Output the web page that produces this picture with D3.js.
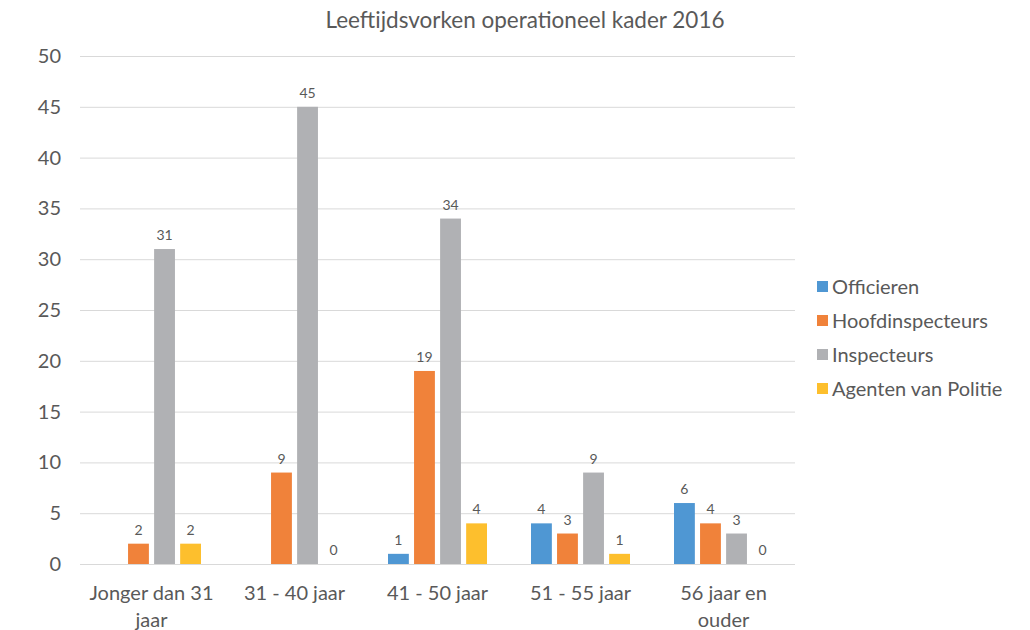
<!DOCTYPE html>
<html>
<head>
<meta charset="utf-8">
<script src="https://cdn.jsdelivr.net/npm/d3@7"></script>
<style>
  body { margin: 0; background: #fff; }
  text { font-family: Lato, "Open Sans", sans-serif; fill: #595959; }
</style>
</head>
<body>
<div id="chart"></div>
<script>
// data
const categories = ["Jonger dan 31|jaar", "31 - 40 jaar", "41 - 50 jaar", "51 - 55 jaar", "56 jaar en|ouder"];
const seriesNames = ["Officieren", "Hoofdinspecteurs", "Inspecteurs", "Agenten van Politie"];
const officieren = [null, null, 1, 4, 6];
const hoofdinspecteurs = [2, 9, 19, 3, 4];
const inspecteurs = [31, 45, 34, 9, 3];
const agenten = [2, 0, 4, 1, 0];
const yTicks = [0, 5, 10, 15, 20, 25, 30, 35, 40, 45, 50];
const colors = ["#4f97d3", "#f0823a", "#b0b1b4", "#fdbf2d"];

const allSeries = [officieren, hoofdinspecteurs, inspecteurs, agenten];

const W = 1030, H = 630;
const margin = {top: 56, left: 80, right: 235, bottom: 66};

const svg = d3.select("#chart").append("svg")
    .attr("width", W).attr("height", H);

const x0 = d3.scaleBand()
    .domain(categories)
    .range([margin.left, W - margin.right]);

const x1 = d3.scaleBand()
    .domain(seriesNames)
    .range([0, 99])
    .paddingInner(0.2);

const y = d3.scaleLinear()
    .domain([0, 50])
    .range([H - margin.bottom, margin.top]);

// gridlines
svg.append("g")
  .selectAll("line")
  .data(yTicks)
  .join("line")
    .attr("x1", margin.left).attr("x2", W - margin.right)
    .attr("y1", d => y(d) + 0.5).attr("y2", d => y(d) + 0.5)
    .attr("stroke", "#d9d9d9").attr("stroke-width", 1);

// y labels
svg.append("g")
  .selectAll("text")
  .data(yTicks)
  .join("text")
    .attr("x", 61).attr("y", d => y(d))
    .attr("dy", "0.35em")
    .attr("text-anchor", "end")
    .style("font-size", "20px")
    .text(d => d);

// bars
const groups = svg.append("g")
  .selectAll("g")
  .data(categories)
  .join("g")
    .attr("transform", c => `translate(${x0(c) + (x0.bandwidth() - 99) / 2},0)`);

seriesNames.forEach((s, si) => {
    groups.append("rect")
        .filter((c, ci) => allSeries[si][ci] !== null && allSeries[si][ci] > 0)
        .attr("x", x1(s))
        .attr("width", x1.bandwidth())
        .attr("y", (c) => y(allSeries[si][categories.indexOf(c)]))
        .attr("height", (c) => y(0) - y(allSeries[si][categories.indexOf(c)]))
        .attr("fill", colors[si]);
    groups.filter((c, ci) => allSeries[si][ci] !== null)
      .append("text")
        .attr("x", x1(s) + x1.bandwidth() / 2)
        .attr("y", c => y(allSeries[si][categories.indexOf(c)]) - 9)
        .attr("text-anchor", "middle")
        .style("font-size", "14px")
        .text(c => allSeries[si][categories.indexOf(c)]);
});

// category labels
svg.append("g")
  .selectAll("text")
  .data(categories)
  .join("text")
    .attr("text-anchor", "middle")
    .style("font-size", "20px")
    .each(function(c) {
        const lines = c.split("|");
        d3.select(this).selectAll("tspan")
          .data(lines)
          .join("tspan")
            .attr("x", x0(c) + x0.bandwidth() / 2)
            .attr("y", (d, i) => 600 + i * 27)
            .text(d => d);
    });

// title
svg.append("text")
    .attr("x", 525).attr("y", 28)
    .attr("text-anchor", "middle")
    .style("font-size", "22.5px")
    .text("Leeftijdsvorken operationeel kader 2016");

// legend
const legend = svg.append("g")
  .selectAll("g")
  .data(seriesNames)
  .join("g")
    .attr("transform", (d, i) => `translate(817,${287 + i * 34})`);
legend.append("rect")
    .attr("x", 0).attr("y", -6).attr("width", 11).attr("height", 11)
    .attr("fill", (d, i) => colors[i]);
legend.append("text")
    .attr("x", 15).attr("y", 0).attr("dy", "0.35em")
    .style("font-size", "20px")
    .text(d => d);
</script>
</body>
</html>
